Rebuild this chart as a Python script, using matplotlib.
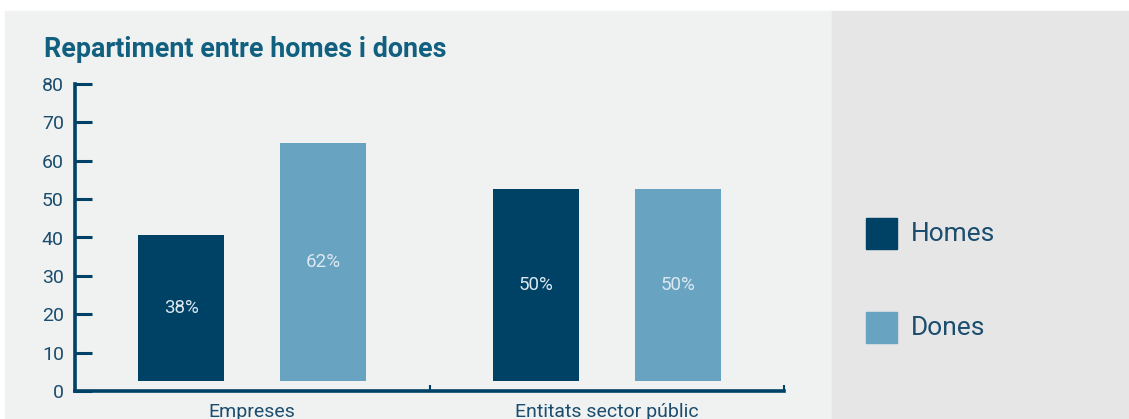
import numpy as np
import matplotlib
matplotlib.use("Agg")
import matplotlib.pyplot as plt
from matplotlib.patches import Rectangle

# data
categories = ["Empreses", "Entitats sector públic"]
series = ["Homes", "Dones"]
homes = [38, 50]
dones = [62, 50]
values = [homes, dones]
colors = ["#004166", "#69a3c2"]

W, H = 1129, 419
plt.rcParams['font.family'] = ['Roboto', 'DejaVu Sans']
txt = "#1b4d6e"

fig = plt.figure(figsize=(W / 100, H / 100), dpi=100, facecolor="white")

# background panels
fig.patches.append(Rectangle((5 / W, 0), (832 - 5) / W, (H - 11) / H,
                             transform=fig.transFigure, color="#f0f1f1", zorder=-10))
fig.patches.append(Rectangle((832 / W, 0), (W - 832) / W, (H - 11) / H,
                             transform=fig.transFigure, color="#e6e6e6", zorder=-10))

ax = fig.add_axes([75 / W, (H - 391) / H, (784 - 75) / W, (391 - 84) / H])
ax.set_facecolor("none")
ax.set_zorder(5)

x = np.arange(len(categories))
width = 0.242
offs = [-0.2, 0.2]
base = 2.6
for vals, off, c in zip(values, offs, colors):
    bars = ax.bar(x + off, vals, width, bottom=base, color=c, zorder=2)
    for b, v in zip(bars, vals):
        ax.text(b.get_x() + b.get_width() / 2, base + v / 2, "%d%%" % v,
                ha="center", va="center", color="#dce8f0", fontsize=13.5, zorder=3)

ax.set_xlim(-0.5, 1.5)
ax.set_ylim(0, 80)
ax.set_yticks(range(0, 81, 10))
ax.tick_params(axis="y", direction="in", length=12, width=2.2, color="#004166",
               labelsize=14, labelcolor=txt, pad=8)
ax.set_xticks([0.5, 1.5])
ax.set_xticklabels([])
ax.tick_params(axis="x", direction="in", length=4, width=1.5, color="#004166")
for i, cat in enumerate(categories):
    ax.text(i, -3.0, cat, ha="center", va="top", fontsize=14, color=txt,
            transform=ax.transData, clip_on=False)

for s in ["top", "right"]:
    ax.spines[s].set_visible(False)
for s in ["left", "bottom"]:
    ax.spines[s].set_linewidth(2.6)
    ax.spines[s].set_color("#004166")

fig.text(44 / W, (H - 57) / H, "Repartiment entre homes i dones", fontsize=19.4,
         fontweight="bold", color="#11607f", va="baseline", ha="left")

# legend
for k, (name, c) in enumerate(zip(series, colors)):
    top = 218 + k * 94
    fig.patches.append(Rectangle((866 / W, (H - top - 31) / H), 31 / W, 31 / H,
                                 transform=fig.transFigure, color=c, zorder=1))
    fig.text(911 / W, (H - top - 15.5) / H, name, fontsize=19, color=txt,
             va="center", ha="left")

fig.savefig("out.png", dpi=100, facecolor=fig.get_facecolor())
